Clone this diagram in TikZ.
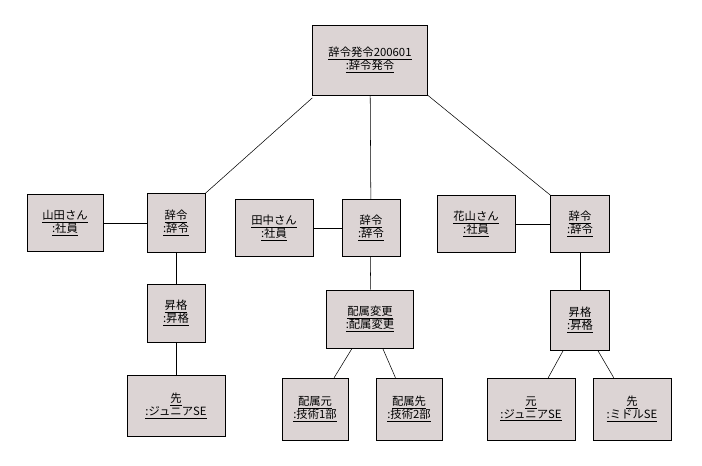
\documentclass[tikz,border=0pt]{standalone}
\usepackage{fontspec}
\newfontfamily\cjk{Noto Sans CJK JP}
\definecolor{boxfill}{RGB}{220,212,212}
\tikzset{obj/.style={draw, fill=boxfill, align=center, inner sep=0pt, font=\cjk\fontsize{8.5}{10}\selectfont}}
\newcommand{\ul}[1]{\underline{#1}}
\begin{document}
\begin{tikzpicture}[x=0.75pt,y=-0.75pt]
\useasboundingbox (0,0) rectangle (702,465);
\node[obj, minimum width=86.25pt, minimum height=52.5pt] (hatsurei) at (370,60) {\ul{辞令発令200601}\\\ul{:辞令発令}};
% yamada
\node[obj, minimum width=57pt, minimum height=43pt] (yamada) at (65,223) {\ul{山田さん}\\\ul{:社員}};
\node[obj, minimum width=43.5pt, minimum height=44pt] (jirei1) at (176,223) {\ul{辞令}\\\ul{:辞令}};
\node[obj, minimum width=43.5pt, minimum height=43.5pt] (shokaku1) at (176,313) {\ul{昇格}\\\ul{:昇格}};
\node[obj, minimum width=73.5pt, minimum height=45.75pt] (saki1) at (176,406) {\ul{先}\\\ul{:ジュニアSE}};
% tanaka
\node[obj, minimum width=58.5pt, minimum height=43pt] (tanaka) at (274,228) {\ul{田中さん}\\\ul{:社員}};
\node[obj, minimum width=43.5pt, minimum height=43pt] (jirei2) at (371,228) {\ul{辞令}\\\ul{:辞令}};
\node[obj, minimum width=65.25pt, minimum height=43.5pt] (haizoku) at (370,319) {\ul{配属変更}\\\ul{:配属変更}};
\node[obj, minimum width=49.5pt, minimum height=46.5pt] (moto2) at (315,409) {\ul{配属元}\\\ul{:技術1部}};
\node[obj, minimum width=49.5pt, minimum height=46.5pt] (saki2) at (409,409) {\ul{配属先}\\\ul{:技術2部}};
% hanayama
\node[obj, minimum width=58.5pt, minimum height=43pt] (hanayama) at (476,224) {\ul{花山さん}\\\ul{:社員}};
\node[obj, minimum width=44.25pt, minimum height=43pt] (jirei3) at (580,224) {\ul{辞令}\\\ul{:辞令}};
\node[obj, minimum width=44.25pt, minimum height=45pt] (shokaku3) at (580,320) {\ul{昇格}\\\ul{:昇格}};
\node[obj, minimum width=66pt, minimum height=46.5pt] (moto3) at (531,409) {\ul{元}\\\ul{:ジュニアSE}};
\node[obj, minimum width=58.5pt, minimum height=46.5pt] (saki3) at (632,409) {\ul{先}\\\ul{:ミドルSE}};
\draw (hatsurei.south west)++(0,-2pt) coordinate (hl) -- (jirei1.north east);
\draw (hatsurei) -- (jirei2);
\draw (hatsurei.south east) -- (jirei3.north west);
\draw (yamada) -- (jirei1);
\draw (jirei1) -- (shokaku1);
\draw (shokaku1) -- (saki1);
\draw (tanaka) -- (jirei2);
\draw (jirei2) -- (haizoku);
\draw (haizoku) -- (moto2);
\draw (haizoku) -- (saki2);
\draw (hanayama) -- (jirei3);
\draw (jirei3) -- (shokaku3);
\draw (shokaku3) -- (moto3);
\draw (shokaku3) -- (saki3);
\end{tikzpicture}
\end{document}
